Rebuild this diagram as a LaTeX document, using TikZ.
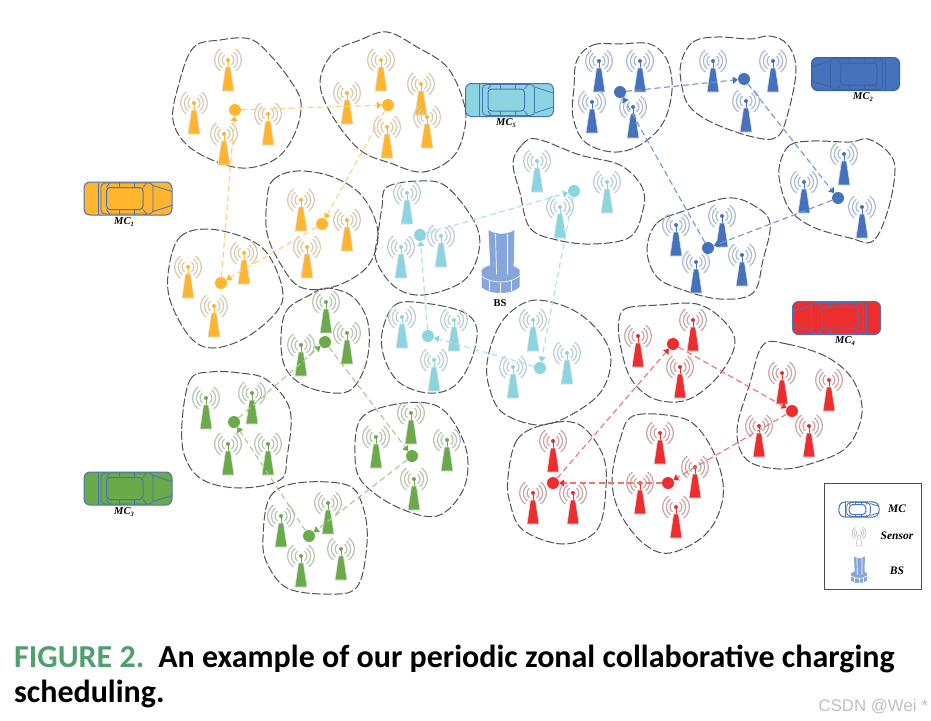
\documentclass[tikz,border=0pt]{standalone}
\usepackage{fontspec}
\setmainfont{Liberation Serif}
\newfontfamily\capfont{Carlito}
\newfontfamily\wmfont{Liberation Sans}
\usetikzlibrary{arrows.meta}
\definecolor{orA}{HTML}{FFB52E}\definecolor{orB}{HTML}{D8CBB2}\definecolor{orL}{HTML}{FFCF7A}
\definecolor{cyA}{HTML}{8AD5E0}\definecolor{cyB}{HTML}{BBCFD5}\definecolor{cyL}{HTML}{A8E2EC}
\definecolor{blA}{HTML}{4472BC}\definecolor{blB}{HTML}{AEBCD3}\definecolor{blL}{HTML}{6F96D8}
\definecolor{grA}{HTML}{6AAA4A}\definecolor{grB}{HTML}{B8C6B2}\definecolor{grL}{HTML}{A2CF88}
\definecolor{reA}{HTML}{EE2D2E}\definecolor{reB}{HTML}{CDA6A6}\definecolor{reL}{HTML}{F47070}
\definecolor{carL}{HTML}{4A72B8}\definecolor{bsA}{HTML}{86A5DA}\definecolor{capG}{HTML}{519E6E}
\tikzset{
  zone/.style={draw=black!68,line width=1pt,dash pattern=on 8pt off 3pt,line cap=round},
  stopdot/.style={circle,fill=#1,minimum size=12pt,inner sep=0pt},
  conn/.style 2 args={draw=#1,line width=1.1pt,dash pattern=on 6pt off 3.5pt,
    -{Triangle[length=5pt,width=7pt,color=#2]}},
  mclabel/.style={font=\bfseries\itshape\fontsize{10.5}{11}\selectfont,inner sep=0pt},
  leglabel/.style={font=\bfseries\itshape\fontsize{11.5}{12}\selectfont,inner sep=0pt},
}
\newcommand\sensorarcs[2]{%
  \foreach \rr in {6,9.7,13.3}{%
    \draw[#1,line width=#2] (0,0) ++(55:\rr pt) arc[start angle=55,end angle=-55,radius=\rr pt];
    \draw[#1,line width=#2] (0,0) ++(125:\rr pt) arc[start angle=125,end angle=235,radius=\rr pt];}}
\newcommand\sensor[4]{%
  \begin{scope}[shift={(#1,#2)}]
    \sensorarcs{#4}{1.25pt}
    \draw[#3,line width=1pt] (0,0)--(0,8);
    \fill[#3,draw=black!12,line width=0.6pt] (-2.4,7)--(2.4,7)--(6,31)--(-6,31)--cycle;
    \fill[#3] (0,0) circle (2pt);
  \end{scope}}
\newcommand\car[6]{%
  \begin{scope}[shift={(#1,#2)},xscale=#5,yscale=#6]
    \draw[fill=#3,draw=#4,line width=1pt,rounded corners=6] (-44,-16.5) rectangle (44,16.5);
    \begin{scope}[draw=#4,line width=0.8pt]
      \draw[rounded corners=4] (-27,-15.5) rectangle (25,15.5);
      \draw[rounded corners=3.5,line width=1pt] (-21.5,-11) rectangle (15,11);
      \draw (-30,-16) -- (-30,16);
      \draw (-21.5,-11) -- (-18,-16) (15,-11) -- (19,-16) (-21.5,11) -- (-18,16) (15,11) -- (19,16);
      \draw (-9,-16.5) -- (-9,-11) (6,-16.5) -- (6,-11) (-9,16.5) -- (-9,11) (6,16.5) -- (6,11);
      \draw (25,-13) -- (44,-7) (25,13) -- (44,7);
    \end{scope}
  \end{scope}}
\newcommand\basest[3]{%
  \begin{scope}[shift={(#1,#2)},scale=#3]
    \fill[bsA] (-19,8) -- (-19,25) .. controls (-12,33) and (12,33) .. (19,25) -- (19,8) .. controls (12,0) and (-12,0) .. (-19,8) -- cycle;
    \draw[white,line width=.7pt] (-19,14) .. controls (-10,22) and (10,22) .. (19,14);
    \draw[white,line width=.7pt] (-11,19) -- (-11,29) (0,21) -- (0,31) (11,19) -- (11,29);
    \fill[bsA] (-12,-32) .. controls (-5,-27) and (7,-27) .. (14,-32) -- (13,10) .. controls (7,15) and (-5,15) .. (-10,10) -- cycle;
    \draw[white,line width=.7pt] (-5,-28) -- (-4,12) (7,-28) -- (7,12);
  \end{scope}}
\begin{document}
\begin{tikzpicture}[x=1pt,y=-1pt]
\useasboundingbox (0,0) rectangle (931,720);
\fill[white] (0,0) rectangle (931,720);

% zones
\foreach \pts in {
 {(193,48)(220,40)(250,39)(270,55)(290,80)(301,103)(295,133)(277,158)(247,168)(217,162)(187,145)(173,120)(178,87)},
 {(320,83)(333,53)(360,40)(387,32)(417,47)(447,67)(463,100)(465,127)(453,157)(423,172)(390,163)(360,150)(333,117)},
 {(267,200)(273,180)(297,171)(333,177)(363,197)(378,233)(367,267)(333,287)(300,287)(280,263)(267,233)},
 {(169,267)(180,237)(207,229)(243,237)(267,253)(282,287)(278,310)(247,337)(213,348)(190,337)(170,300)},
 {(382,207)(387,187)(420,181)(447,187)(476,225)(478,255)(462,282)(423,295)(395,287)(376,260)(378,235)},
 {(382,333)(395,305)(423,303)(463,312)(477,330)(470,363)(453,387)(428,393)(400,383)(385,360)},
 {(487,363)(497,330)(513,310)(537,300)(573,310)(600,333)(611,360)(600,393)(567,417)(537,425)(503,413)(490,390)},
 {(513,163)(522,145)(537,139)(580,155)(620,165)(642,187)(643,210)(630,237)(593,244)(557,240)(530,228)(520,193)},
 {(577,60)(593,45)(620,44)(650,44)(667,60)(672,90)(663,123)(640,145)(613,152)(585,142)(573,117)(574,87)},
 {(681,63)(693,42)(717,37)(750,39)(770,36)(788,45)(796,70)(788,113)(777,137)(753,137)(713,123)(690,107)(682,87)},
 {(780,163)(790,145)(813,141)(850,142)(868,139)(888,152)(895,170)(888,210)(873,241)(850,238)(813,227)(790,210)(780,183)},
 {(647,250)(657,223)(687,210)(727,198)(753,205)(770,223)(763,260)(753,293)(720,299)(683,290)(657,277)},
 {(619,320)(627,308)(660,305)(697,304)(723,320)(735,342)(723,370)(700,393)(677,402)(650,397)(630,377)(620,343)},
 {(763,345)(787,344)(827,357)(853,380)(862,413)(847,447)(813,463)(780,469)(747,460)(737,430)(750,383)},
 {(612,480)(620,440)(633,416)(673,416)(697,427)(717,460)(723,497)(707,533)(670,553)(643,543)(620,513)},
 {(508,477)(517,440)(543,425)(578,424)(602,453)(606,487)(597,530)(563,544)(523,530)(510,503)},
 {(281,337)(287,310)(310,295)(327,288)(353,297)(368,323)(367,360)(353,388)(333,393)(303,385)(285,367)},
 {(182,423)(190,380)(210,372)(240,373)(267,380)(290,410)(287,457)(280,480)(240,488)(203,480)(185,457)},
 {(263,537)(270,497)(297,483)(347,485)(363,507)(367,543)(357,587)(327,594)(287,588)(267,563)},
 {(355,457)(360,420)(387,406)(427,403)(450,417)(467,453)(463,490)(437,516)(397,507)(363,483)}}
 {\draw[zone] plot[smooth cycle,tension=0.6] coordinates \pts;}

% sensors
\foreach \x/\y in {228/60,194/103,224/134,268/114,381/60,347/93,421/84,427/117,387/127,301/200,347/220,307/247,188/267,244/253,214/306}
  {\sensor{\x}{\y}{orA}{orB}}
\foreach \x/\y in {407/193,401/247,441/236,402/317,454/320,434/360,533/320,567/353,513/367,537/161,607/182,560/207}
  {\sensor{\x}{\y}{cyA}{cyB}}
\foreach \x/\y in {599/61,640/61,592/102,633/107,713/61,773/61,746/101,844/154,804/182,862/207,722/216,676/225,696/262,742/255}
  {\sensor{\x}{\y}{blA}{blB}}
\foreach \x/\y in {638/336,693/320,680/367,782/373,829/380,759/426,809/426,660/433,695/467,640/483,676/507,553/441,533/493,573/493}
  {\sensor{\x}{\y}{reA}{reB}}
\foreach \x/\y in {326/302,301/345,347/333,206/398,252/393,228/444,268/444,281/516,328/503,301/556,341/549,411/413,376/437,447/440,414/479}
  {\sensor{\x}{\y}{grA}{grB}}

% charging stops
\node[stopdot=orA] (o1) at (235,110) {};
\node[stopdot=orA] (o2) at (388,105) {};
\node[stopdot=orA] (o3) at (322,224) {};
\node[stopdot=orA] (o4) at (221,283) {};
\node[stopdot=cyA] (c1) at (420,235) {};
\node[stopdot=cyA] (c2) at (574,191) {};
\node[stopdot=cyA] (c3) at (540,368) {};
\node[stopdot=cyA] (c4) at (428,336) {};
\node[stopdot=blA] (b1) at (620,92) {};
\node[stopdot=blA] (b2) at (744,79) {};
\node[stopdot=blA] (b3) at (838,198) {};
\node[stopdot=blA] (b4) at (708,248) {};
\node[stopdot=reA] (r1) at (673,344) {};
\node[stopdot=reA] (r2) at (792,411) {};
\node[stopdot=reA] (r3) at (668,483) {};
\node[stopdot=reA] (r4) at (553,483) {};
\node[stopdot=grA] (g1) at (325,342) {};
\node[stopdot=grA] (g2) at (412,456) {};
\node[stopdot=grA] (g3) at (309,536) {};
\node[stopdot=grA] (g4) at (234,422) {};

% connectors
\foreach \a/\b in {o1/o2,o2/o3,o3/o4,o4/o1} {\draw[conn={orL}{orA}] (\a) -- (\b);}
\foreach \a/\b in {c1/c2,c2/c3,c3/c4,c4/c1} {\draw[conn={cyL}{cyA}] (\a) -- (\b);}
\foreach \a/\b in {b1/b2,b2/b3,b3/b4,b4/b1} {\draw[conn={blL}{blA}] (\a) -- (\b);}
\foreach \a/\b in {r1/r2,r2/r3,r3/r4,r4/r1} {\draw[conn={reL}{reA}] (\a) -- (\b);}
\foreach \a/\b in {g1/g2,g2/g3,g3/g4,g4/g1} {\draw[conn={grL}{grA}] (\a) -- (\b);}

% cars
\car{128}{198.5}{orA}{carL}{1}{1}
\car{509.5}{100}{cyA}{carL}{1}{1}
\car{855.5}{74}{blA}{blA!85!black}{-1}{1}
\car{836.5}{318}{reA}{carL}{-1}{1}
\car{128}{488.5}{grA}{carL}{1}{1}
\node[mclabel] (mc1) at (124,222) {MC\raisebox{-1.5pt}{\fontsize{6.5}{7}\selectfont 1}};
\node[mclabel] (mc5) at (506,123) {MC\raisebox{-1.5pt}{\fontsize{6.5}{7}\selectfont 5}};
\node[mclabel] (mc2) at (863,97) {MC\raisebox{-1.5pt}{\fontsize{6.5}{7}\selectfont 2}};
\node[mclabel] (mc4) at (845,341) {MC\raisebox{-1.5pt}{\fontsize{6.5}{7}\selectfont 4}};
\node[mclabel] (mc3) at (124,512) {MC\raisebox{-1.5pt}{\fontsize{6.5}{7}\selectfont 3}};

% base station
\basest{500.5}{262}{1}
\node[font=\bfseries\fontsize{10.5}{11}\selectfont,inner sep=0pt] (bs) at (500,303) {BS};

% legend
\node[draw=black!70,line width=1pt,minimum width=97pt,minimum height=106pt,inner sep=0pt] (legend) at (872.5,536) {};
\car{859}{509.5}{white}{carL}{0.455}{0.455}
\begin{scope}[shift={(859,533)}]
  \foreach \rr in {3,5,7}{%
    \draw[black!22,line width=0.8pt] (0,0) ++(55:\rr pt) arc[start angle=55,end angle=-55,radius=\rr pt];
    \draw[black!22,line width=0.8pt] (0,0) ++(125:\rr pt) arc[start angle=125,end angle=235,radius=\rr pt];}
  \draw[black!22,fill=white,line width=0.7pt] (-1,2)--(1,2)--(3,13)--(-3,13)--cycle;
\end{scope}
\basest{859}{570}{0.42}
\node[leglabel] (lmc) at (897,509) {MC};
\node[leglabel] (lsn) at (897,536) {Sensor};
\node[leglabel] (lbs) at (897,571) {BS};

% caption
\node[anchor=base west,inner sep=0pt,font=\capfont\bfseries\fontsize{32}{35}\selectfont] (cap1) at (14,667)
  {\textcolor{capG}{FIGURE 2.}\hspace{14pt}An example of our periodic zonal collaborative charging};
\node[anchor=base west,inner sep=0pt,font=\capfont\bfseries\fontsize{32}{35}\selectfont] (cap2) at (14,702) {scheduling.};
\node[anchor=base east,inner sep=0pt,text=black!25,font=\wmfont\fontsize{16.8}{18}\selectfont] (wm) at (928,711) {CSDN @Wei *};
\end{tikzpicture}
\end{document}
